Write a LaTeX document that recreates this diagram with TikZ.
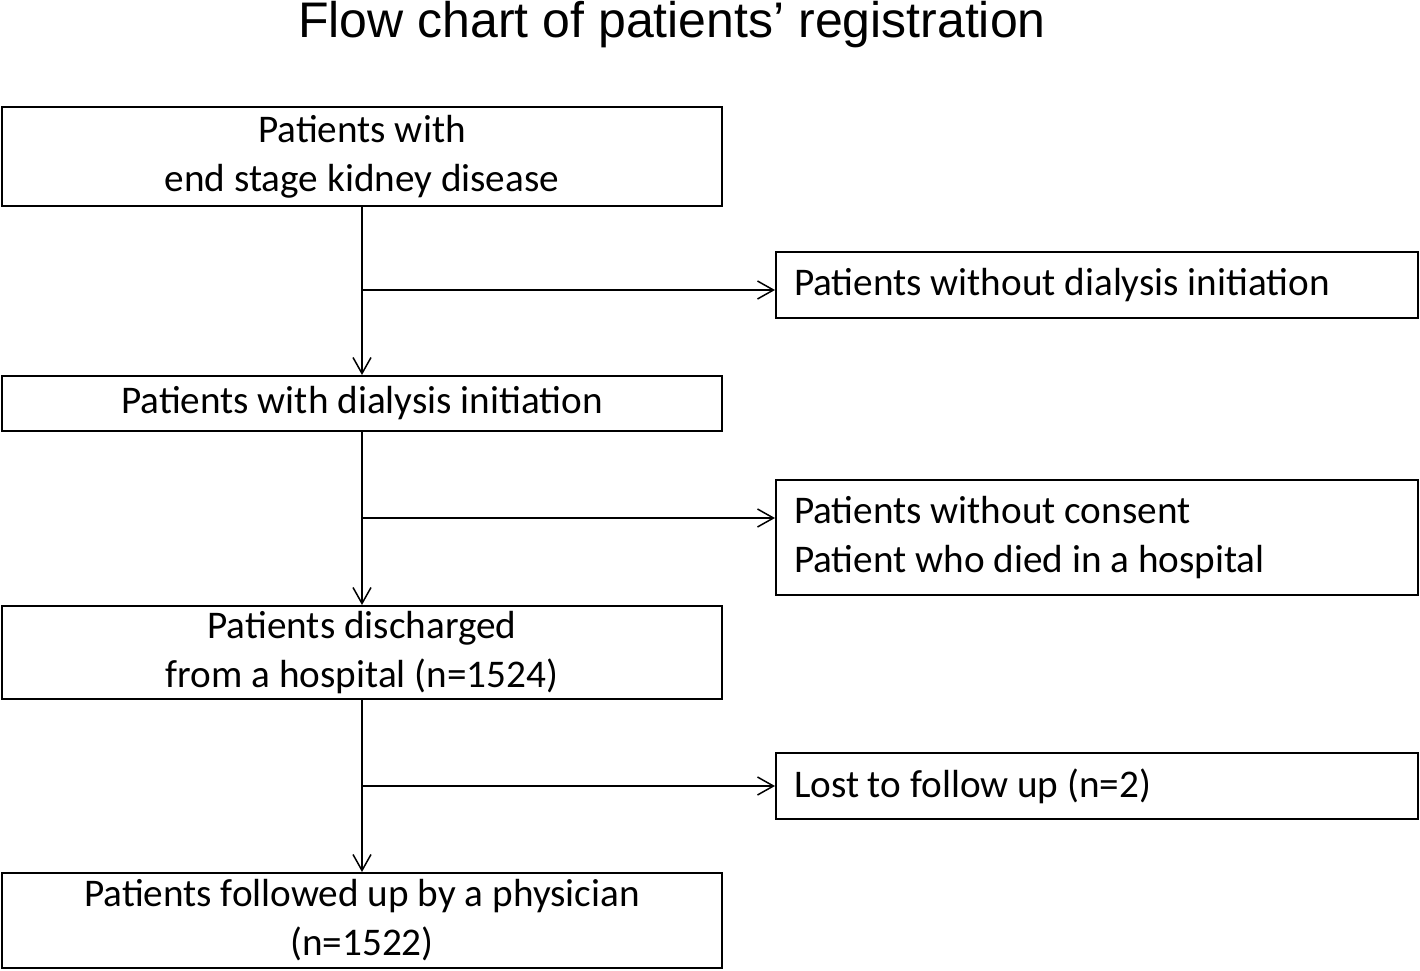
\documentclass[tikz,border=0pt]{standalone}
\usepackage{fontspec}
\setmainfont{Carlito}
\newfontfamily\titlefont{Liberation Sans}
\usetikzlibrary{arrows.meta}

\tikzset{
  mainbox/.style={draw, line width=1pt, minimum width=360pt, align=center, inner sep=0pt},
  sidebox/.style={draw, line width=1pt, minimum width=321pt, text width=303pt, inner xsep=9pt, inner ysep=0pt, align=flush left},
  flow/.style={line width=0.75pt, -{Straight Barb[length=8pt,width=9pt,line width=0.75pt]}}
}

\begin{document}
\begin{tikzpicture}[x=1pt,y=1pt,font=\fontsize{19.6}{24.5}\selectfont]
                \useasboundingbox (0,0) rectangle (710,-485);

                % Title
                \node[anchor=base, font=\titlefont\fontsize{25}{30}\selectfont] (title) at (336,-18.5) {Flow chart of patients’ registration};

                % Main column
                \node[mainbox, minimum height=49.5pt] (ckd) at (181,-78.25) {Patients with\\end stage kidney disease};
                \node[mainbox, minimum height=27.5pt] (dialysis) at (181,-201.75) {Patients with dialysis initiation};
                \node[mainbox, minimum height=46.5pt] (discharged) at (181,-326.25) {Patients discharged\\from a hospital (n=1524)};
                \node[mainbox, minimum height=47.5pt] (followed) at (181,-460.25) {Patients followed up by a physician\\(n=1522)};

                % Excluded boxes
                \node[sidebox, minimum height=33pt] (nodialysis) at (548.5,-142.5) {Patients without dialysis initiation};
                \node[sidebox, minimum height=57.5pt] (noconsent) at (548.5,-268.75) {Patients without consent\\Patient who died in a hospital};
                \node[sidebox, minimum height=33pt] (lost) at (548.5,-393) {Lost to follow up (n=2)};

                % Branch points
                \coordinate (b1) at (181,-145);
                \coordinate (b2) at (181,-259);
                \coordinate (b3) at (181,-393);

                % Vertical arrows
                \draw[flow] (ckd.south) -- (dialysis.north);
                \draw[flow] (dialysis.south) -- (discharged.north);
                \draw[flow] (discharged.south) -- (followed.north);

                % Side arrows
                \draw[flow] (b1) -- (nodialysis.west |- b1);
                \draw[flow] (b2) -- (noconsent.west |- b2);
                \draw[flow] (b3) -- (lost.west |- b3);
            \end{tikzpicture}
\end{document}
